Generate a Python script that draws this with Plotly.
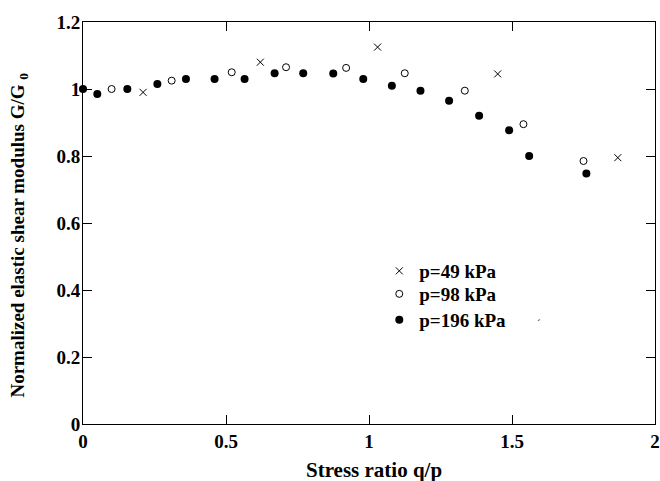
import plotly.graph_objects as go

x49 = [0.21, 0.62, 1.03, 1.45, 1.87]
y49 = [0.99, 1.08, 1.125, 1.045, 0.795]

x98 = [0.10, 0.31, 0.52, 0.71, 0.92, 1.125, 1.335, 1.54, 1.75]
y98 = [1.0, 1.025, 1.05, 1.065, 1.063, 1.047, 0.995, 0.895, 0.785]

x196 = [0, 0.05, 0.155, 0.26, 0.36, 0.46, 0.565, 0.67, 0.77, 0.875, 0.98,
        1.08, 1.18, 1.28, 1.385, 1.49, 1.56, 1.76]
y196 = [1.0, 0.985, 1.0, 1.015, 1.03, 1.03, 1.03, 1.047, 1.047, 1.046, 1.03,
        1.01, 0.995, 0.965, 0.92, 0.877, 0.8, 0.748]

x_ticks = [0, 0.5, 1, 1.5, 2]
x_ticklabels = ["0", "0.5", "1", "1.5", "2"]
y_ticks = [0, 0.2, 0.4, 0.6, 0.8, 1.0, 1.2]
y_ticklabels = ["0", "0.2", "0.4", "0.6", "0.8", "1", "1.2"]

FONT = "Liberation Serif"
FS = 19

fig = go.Figure()
fig.add_trace(go.Scatter(x=x49, y=y49, mode="markers", name="p=49 kPa", legend="legend",
                         showlegend=True, cliponaxis=False,
                         marker=dict(symbol="x-thin", size=7, color="black",
                                     line=dict(width=1, color="black"))))
fig.add_trace(go.Scatter(x=x98, y=y98, mode="markers", name="p=98 kPa", legend="legend2",
                         showlegend=True, cliponaxis=False,
                         marker=dict(symbol="circle-open", size=7, color="black",
                                     line=dict(width=1, color="black"))))
fig.add_trace(go.Scatter(x=x196, y=y196, mode="markers", name="p=196 kPa", legend="legend3",
                         showlegend=True, cliponaxis=False,
                         marker=dict(symbol="circle", size=8, color="black")))

axis_common = dict(showgrid=False, zeroline=False, showline=True, linecolor="black",
                   linewidth=1, mirror="allticks", ticks="inside", ticklen=9,
                   tickcolor="black", tickwidth=1, automargin=False,
                   tickfont=dict(family=FONT, size=FS, color="black", weight="bold"))

fig.update_xaxes(range=[0, 2], tickvals=x_ticks, ticktext=x_ticklabels, **axis_common)
fig.update_yaxes(range=[0, 1.2], tickvals=y_ticks, ticktext=y_ticklabels,
                 ticklabelstandoff=-2, **axis_common)

fig.add_annotation(text="<b>Stress ratio q/p</b>",
                   xref="paper", yref="paper", x=0.509, y=-0.1144,
                   showarrow=False, xanchor="center", yanchor="middle",
                   font=dict(family=FONT, size=21, color="black"))

fig.add_annotation(text="<b>Normalized elastic shear modulus G/G <sub>0</sub></b>",
                   xref="paper", yref="paper", x=-0.111, y=0.47, textangle=-90,
                   showarrow=False, xanchor="center", yanchor="middle",
                   font=dict(family=FONT, size=FS, color="black"))

# small stray marks present in the original figure
fig.add_annotation(text="`", xref="paper", yref="paper", x=0.74, y=0.232,
                   showarrow=False, font=dict(family=FONT, size=11, color="black"))
fig.add_annotation(text="´", xref="paper", yref="paper", x=0.805, y=0.232,
                   showarrow=False, font=dict(family=FONT, size=11, color="black"))

leg_common = dict(x=0.518, xanchor="left", yanchor="middle", bgcolor="rgba(0,0,0,0)",
                  font=dict(family=FONT, size=FS, color="black", weight="bold"),
                  itemwidth=30)

fig.update_layout(
    width=660, height=481, showlegend=True,
    margin=dict(l=83, r=5, t=22, b=57, autoexpand=False),
    plot_bgcolor="white", paper_bgcolor="white",
    font=dict(family=FONT, color="black"),
    legend=dict(y=0.3806, **leg_common),
    legend2=dict(y=0.3234, **leg_common),
    legend3=dict(y=0.2587, **leg_common),
)

fig.write_html("out.html", config={"displayModeBar": False},
               post_script="document.body.style.margin='0';document.body.style.overflow='hidden';")
